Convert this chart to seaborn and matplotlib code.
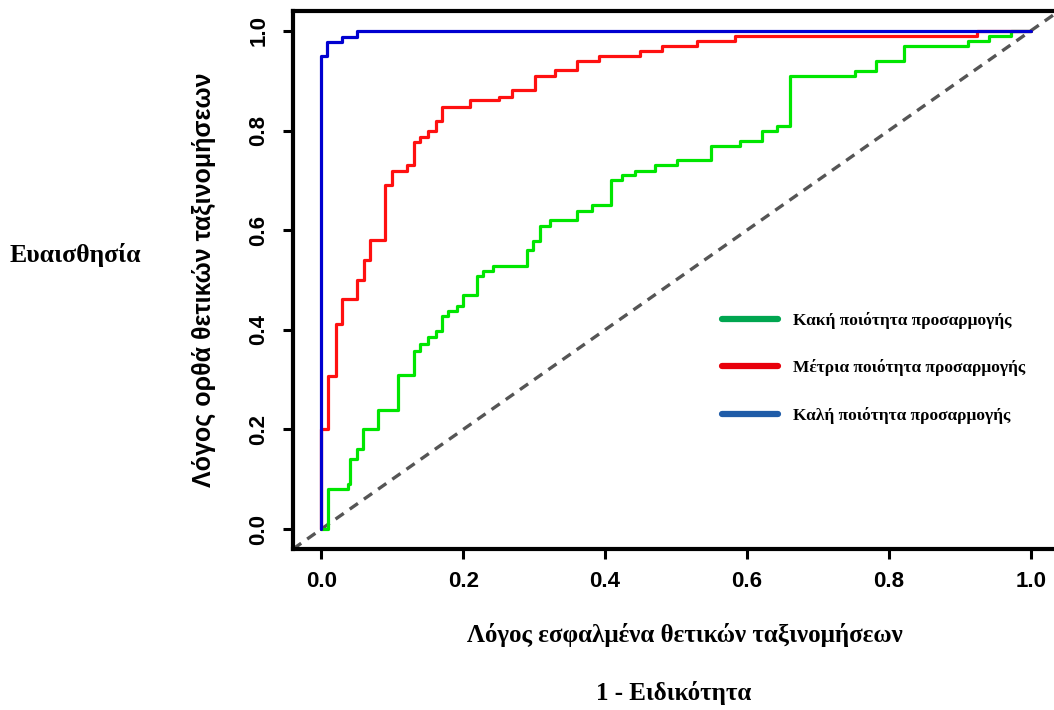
import numpy as np
import pandas as pd
import matplotlib
matplotlib.use("Agg")
import matplotlib.pyplot as plt
import seaborn as sns
from matplotlib.lines import Line2D

# ROC step points (fpr, tpr)
bad_fpr = [0.0, 0.010, 0.038, 0.041, 0.050, 0.059, 0.080, 0.108, 0.130, 0.139, 0.151,
           0.161, 0.170, 0.179, 0.191, 0.200, 0.219, 0.228, 0.242, 0.290, 0.299, 0.308,
           0.322, 0.360, 0.381, 0.409, 0.424, 0.442, 0.470, 0.501, 0.550, 0.590, 0.621,
           0.642, 0.661, 0.752, 0.782, 0.821, 0.912, 0.942, 0.973, 1.0]
bad_tpr = [0.0, 0.080, 0.090, 0.140, 0.160, 0.200, 0.240, 0.310, 0.357, 0.371, 0.385,
           0.397, 0.427, 0.437, 0.447, 0.470, 0.508, 0.518, 0.529, 0.561, 0.578, 0.608,
           0.620, 0.638, 0.651, 0.700, 0.711, 0.718, 0.731, 0.740, 0.770, 0.780, 0.800,
           0.810, 0.910, 0.920, 0.940, 0.970, 0.980, 0.990, 1.0, 1.0]

mid_fpr = [0.0, 0.0, 0.010, 0.020, 0.029, 0.050, 0.060, 0.069, 0.090, 0.100, 0.121,
           0.130, 0.139, 0.151, 0.161, 0.170, 0.210, 0.250, 0.269, 0.301, 0.330, 0.360,
           0.391, 0.449, 0.480, 0.530, 0.583, 0.924, 1.0]
mid_tpr = [0.0, 0.200, 0.307, 0.411, 0.461, 0.501, 0.541, 0.581, 0.690, 0.718, 0.731,
           0.778, 0.788, 0.800, 0.820, 0.848, 0.862, 0.868, 0.882, 0.910, 0.922, 0.940,
           0.950, 0.960, 0.970, 0.980, 0.990, 1.0, 1.0]

good_fpr = [0.0, 0.0, 0.008, 0.029, 0.050, 1.0]
good_tpr = [0.0, 0.950, 0.978, 0.988, 1.0, 1.0]

labels = ["Κακή ποιότητα προσαρμογής", "Μέτρια ποιότητα προσαρμογής", "Καλή ποιότητα προσαρμογής"]
ticks = [0.0, 0.2, 0.4, 0.6, 0.8, 1.0]

sns.set_style("ticks")
plt.rcParams['font.family'] = ['Liberation Sans', 'DejaVu Sans']
plt.rcParams['text.color'] = 'black'
plt.rcParams['axes.labelcolor'] = 'black'
plt.rcParams['xtick.color'] = 'black'
plt.rcParams['ytick.color'] = 'black'

fig = plt.figure(figsize=(10.54, 7.10), dpi=100)
ax = fig.add_axes([293/1054, 1 - 549/710, 766/1054, 538/710])

# chance diagonal
ax.plot([-0.04, 1.04], [-0.04, 1.04], color="#555555", lw=2.4, ls=(0, (3, 2.2)), zorder=1)

curves = [(bad_fpr, bad_tpr, "#00e600"), (mid_fpr, mid_tpr, "#ff1010"), (good_fpr, good_tpr, "#0000d0")]
for fpr, tpr, col in curves:
    df = pd.DataFrame({"fpr": fpr, "tpr": tpr})
    sns.lineplot(data=df, x="fpr", y="tpr", sort=False, estimator=None, color=col,
                 lw=2.3, drawstyle="steps-post", ax=ax, zorder=2)

ax.set_xlim(-0.04, 1.04)
ax.set_ylim(-0.04, 1.04)
ax.set_xticks(ticks)
ax.set_yticks(ticks)
ax.set_xticklabels([f"{t:.1f}" for t in ticks], fontsize=16, fontweight="bold")
ax.set_yticklabels([f"{t:.1f}" for t in ticks], fontsize=16, fontweight="bold",
                   rotation=90, va="center")
ax.tick_params(axis="both", direction="out", length=7, width=2.2, color="black",
               bottom=True, left=True, top=False, right=False)
ax.tick_params(axis="x", pad=9)
ax.tick_params(axis="y", pad=10)
for side in ["left", "top", "bottom", "right"]:
    ax.spines[side].set_visible(True)
    ax.spines[side].set_color("black")
    ax.spines[side].set_linewidth(3)

ax.set_xlabel("")
ax.set_ylabel("Λόγος ορθά θετικών ταξινομήσεων", fontsize=18, fontweight="bold", labelpad=23)

serif = ['Liberation Serif', 'DejaVu Serif']
fig.text(685/1054, 1 - 635/710, "Λόγος εσφαλμένα θετικών ταξινομήσεων", family=serif,
         fontsize=18, fontweight="bold", ha="center", va="center")
fig.text(674/1054, 1 - 693/710, "1 - Ειδικότητα", family=serif,
         fontsize=18, fontweight="bold", ha="center", va="center")
fig.text(10/1054, 1 - 255/710, "Ευαισθησία", family=serif,
         fontsize=18.5, fontweight="bold", ha="left", va="center")

handles = [Line2D([0], [0], color=c, lw=4.5) for c in ["#00a650", "#e8000b", "#1f5ca8"]]
leg = fig.legend(handles, labels, loc="upper left", bbox_to_anchor=(706/1054, 1 - 296/710),
                 frameon=False, handlelength=3.25, labelspacing=1.76, handletextpad=0.85,
                 prop={"family": serif, "weight": "bold", "size": 12.5})

fig.savefig("out.png", dpi=100)
